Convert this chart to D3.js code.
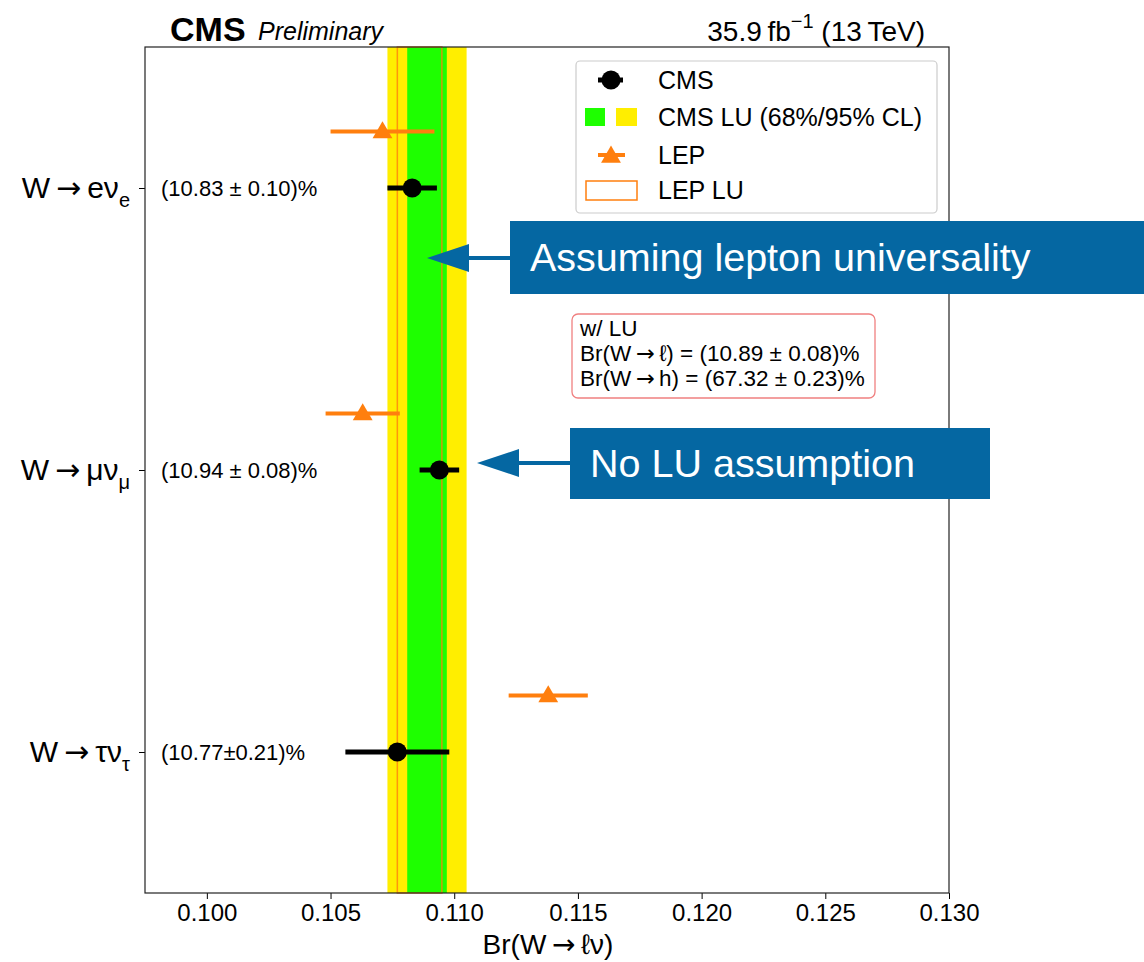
<html>
<meta charset="utf-8" />
<head>
<title>W leptonic branching ratios</title>
<script src="https://cdn.jsdelivr.net/npm/d3@7"></script>
<style>
	body { margin: 0; background: #fff; }
	text { font-family: "Liberation Sans", Arial, sans-serif; }
	.arr { font-family: "DejaVu Sans", sans-serif; }
</style>
</head>
<body>
<svg id="chart" width="1144" height="962"></svg>
<script>
// values
const channels = ["e", "mu", "tau"];
const chanPos = [2, 1, 0];
const chanLabels = [["e\u03bd", "e"], ["\u03bc\u03bd", "\u03bc"], ["\u03c4\u03bd", "\u03c4"]];
const chanText = ["(10.83 \u00b1 0.10)%", "(10.94 \u00b1 0.08)%", "(10.77\u00b10.21)%"];
const cmsVal = [0.1083, 0.1094, 0.1077];
const cmsErr = [0.0010, 0.0008, 0.0021];
const lepVal = [0.1071, 0.1063, 0.1138];
const lepErr = [0.0021, 0.0015, 0.0016];
const cmsLU = 0.1089, cmsLU68 = 0.0008, cmsLU95 = 0.0016;
const lepLU = 0.1086, lepLUErr = 0.0009;
const xTicks = [0.100, 0.105, 0.110, 0.115, 0.120, 0.125, 0.130];
const luLines = [["w/ LU", ""], ["Br(W", "\u2113) = (10.89 \u00b1 0.08)%"], ["Br(W", "h) = (67.32 \u00b1 0.23)%"]];

(function() {
const svg = d3.select("#chart");
const pLeft = 145, pRight = 949, pTop = 47, pBottom = 893;
const x = d3.scaleLinear().domain([0.0975, 0.130]).range([pLeft, pRight]);
const y = d3.scaleLinear().domain([-0.5, 2.5]).range([pBottom, pTop]);
const orange = "#ff7f0e";

// text with a long arrow between two parts
function arrowText(t, a, b) {
	t.append("tspan").text(a);
	t.append("tspan").attr("class", "arr").text("\u2009\u2192\u2009");
	t.append("tspan").text(b);
	return t;
}

// bands
const g = svg.append("g");
g.append("rect").attr("x", x(cmsLU - cmsLU95)).attr("width", x(cmsLU + cmsLU95) - x(cmsLU - cmsLU95))
	.attr("y", pTop).attr("height", pBottom - pTop).attr("fill", "#ffee00");
g.append("rect").attr("x", x(cmsLU - cmsLU68)).attr("width", x(cmsLU + cmsLU68) - x(cmsLU - cmsLU68))
	.attr("y", pTop).attr("height", pBottom - pTop).attr("fill", "#1eff00");
g.append("rect").attr("x", x(lepLU - lepLUErr)).attr("width", x(lepLU + lepLUErr) - x(lepLU - lepLUErr))
	.attr("y", pTop).attr("height", pBottom - pTop).attr("fill", "none")
	.attr("stroke", orange).attr("stroke-width", 1.5).attr("opacity", 0.8);

// LEP points
const lepY = (i) => y(chanPos[i] + 0.2);
channels.forEach((c, i) => {
	g.append("line").attr("x1", x(lepVal[i] - lepErr[i])).attr("x2", x(lepVal[i] + lepErr[i]))
		.attr("y1", lepY(i)).attr("y2", lepY(i)).attr("stroke", orange).attr("stroke-width", 4);
	g.append("path").attr("d", d3.symbol().type(d3.symbolTriangle).size(170)())
		.attr("transform", "translate(" + x(lepVal[i]) + "," + (lepY(i) + 1) + ")").attr("fill", orange);
});

// CMS points
channels.forEach((c, i) => {
	const cy = y(chanPos[i]);
	g.append("line").attr("x1", x(cmsVal[i] - cmsErr[i])).attr("x2", x(cmsVal[i] + cmsErr[i]))
		.attr("y1", cy).attr("y2", cy).attr("stroke", "black").attr("stroke-width", 5);
	g.append("circle").attr("cx", x(cmsVal[i])).attr("cy", cy).attr("r", 9.5).attr("fill", "black");
	svg.append("text").attr("x", 161).attr("y", cy + 8).attr("font-size", 22).text(chanText[i]);
});

// axes
const xAxis = d3.axisBottom(x).tickValues(xTicks).tickFormat(d3.format(".3f")).tickSize(6).tickSizeOuter(0);
const xg = svg.append("g").attr("transform", "translate(0," + pBottom + ")").call(xAxis);
xg.selectAll("text").attr("font-size", 24).attr("dy", "0.8em").style("font-family", "Liberation Sans, Arial");
const yAxis = d3.axisLeft(y).tickValues(chanPos).tickFormat("").tickSize(6).tickSizeOuter(0);
svg.append("g").attr("transform", "translate(" + pLeft + ",0)").call(yAxis);
svg.append("rect").attr("x", pLeft).attr("y", pTop).attr("width", pRight - pLeft).attr("height", pBottom - pTop)
	.attr("fill", "none").attr("stroke", "#222").attr("stroke-width", 1.2);
svg.selectAll(".domain").remove();

// y labels
channels.forEach((c, i) => {
	const t = svg.append("text").attr("x", 130).attr("y", y(chanPos[i]) + 10).attr("font-size", 30).attr("text-anchor", "end");
	arrowText(t, "W", chanLabels[i][0]);
	t.append("tspan").attr("font-size", 20).attr("dy", 9).text(chanLabels[i][1]);
});

arrowText(svg.append("text").attr("x", 548).attr("y", 954).attr("text-anchor", "middle").attr("font-size", 28), "Br(W", "\u2113\u03bd)");

// header
svg.append("text").attr("x", 170).attr("y", 41).attr("font-size", 34).attr("font-weight", "bold").text("CMS");
svg.append("text").attr("x", 258).attr("y", 40).attr("font-size", 25).attr("font-style", "italic").text("Preliminary");
const lumi = svg.append("text").attr("x", 925).attr("y", 41).attr("font-size", 28).attr("text-anchor", "end");
lumi.append("tspan").text("35.9\u2009fb");
lumi.append("tspan").attr("font-size", 20).attr("dy", -13).text("\u22121");
lumi.append("tspan").attr("dy", 13).text(" (13\u2009TeV)");

// legend
const leg = svg.append("g");
leg.append("rect").attr("x", 576).attr("y", 61).attr("width", 361).attr("height", 152).attr("rx", 4)
	.attr("fill", "white").attr("stroke", "#ccc").attr("stroke-width", 1.2);
const legNames = ["CMS", "CMS LU (68%/95% CL)", "LEP", "LEP LU"];
const legY = [80, 117, 155, 190];
legNames.forEach((n, i) => {
	leg.append("text").attr("x", 658).attr("y", legY[i] + 9).attr("font-size", 25).text(n);
});
leg.append("line").attr("x1", 598).attr("x2", 623).attr("y1", 80).attr("y2", 80).attr("stroke", "black").attr("stroke-width", 5);
leg.append("circle").attr("cx", 611).attr("cy", 80).attr("r", 9.5).attr("fill", "black");
leg.append("rect").attr("x", 585).attr("y", 108).attr("width", 20).attr("height", 18).attr("fill", "#1eff00");
leg.append("rect").attr("x", 616).attr("y", 108).attr("width", 21).attr("height", 18).attr("fill", "#ffee00");
leg.append("path").attr("d", d3.symbol().type(d3.symbolTriangle).size(170)())
	.attr("transform", "translate(611,157)").attr("fill", orange);
leg.append("line").attr("x1", 598).attr("x2", 625).attr("y1", 155).attr("y2", 155).attr("stroke", orange).attr("stroke-width", 4);
leg.append("rect").attr("x", 586).attr("y", 181).attr("width", 51).attr("height", 19).attr("fill", "none")
	.attr("stroke", orange).attr("stroke-width", 1.5);

// LU text box
svg.append("rect").attr("x", 572).attr("y", 314).attr("width", 303).attr("height", 84).attr("rx", 6)
	.attr("fill", "white").attr("stroke", "#f08080").attr("stroke-width", 1.3);
luLines.forEach((l, i) => {
	const t = svg.append("text").attr("x", 580).attr("y", 336 + i * 25).attr("font-size", 22.5);
	if (l[1]) arrowText(t, l[0], l[1]); else t.text(l[0]);
});

// annotation callouts
const blue = "#0567a2";
function callout(bx, by, bw, bh, tipX, tipY, label) {
	svg.append("rect").attr("x", bx).attr("y", by).attr("width", bw).attr("height", bh).attr("fill", blue);
	svg.append("line").attr("x1", tipX + 40).attr("x2", bx).attr("y1", tipY).attr("y2", tipY)
		.attr("stroke", blue).attr("stroke-width", 4);
	svg.append("path").attr("d", d3.line()([[tipX, tipY], [tipX + 42, tipY - 14], [tipX + 42, tipY + 14]]))
		.attr("fill", blue);
	svg.append("text").attr("x", bx + 20).attr("y", by + bh / 2 + 13).attr("font-size", 39.5)
		.attr("fill", "white").text(label);
}
callout(510, 221, 640, 73, 427, 258, "Assuming lepton universality");
callout(570, 428, 420, 71, 477, 463, "No LU assumption");
})();
</script>
</body>
</html>
